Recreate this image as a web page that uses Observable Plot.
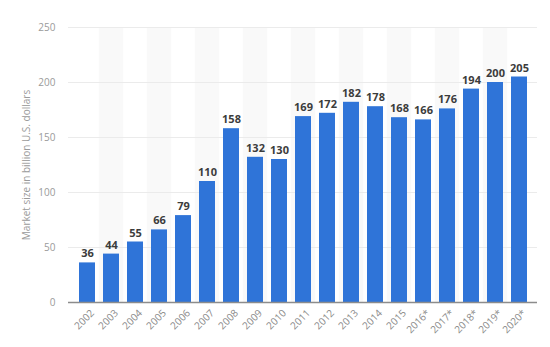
<!DOCTYPE html>
<html>
<head>
<meta charset="utf-8">
<script src="https://cdn.jsdelivr.net/npm/d3@7"></script>
<script src="https://cdn.jsdelivr.net/npm/@observablehq/plot@0.6"></script>
<style>
  html, body { margin: 0; padding: 0; background: #fff; }
  #chart { width: 550px; height: 347px; }
</style>
</head>
<body>
<div id="chart"></div>
<script>
const years = ["2002","2003","2004","2005","2006","2007","2008","2009","2010","2011","2012","2013","2014","2015","2016*","2017*","2018*","2019*","2020*"];
const values = [36,44,55,66,79,110,158,132,130,169,172,182,178,168,166,176,194,200,205];
const yTicks = [0,50,100,150,200,250];
const yLabel = "Market size in billion U.S. dollars";

const data = years.map((year, i) => ({year, value: values[i]}));
const stripes = years.filter((d, i) => i % 2 === 1);

const marginLeft = 68, marginRight = 13;
const padding = 0.35;
const step = (550 - marginLeft - marginRight) / (years.length + padding);

const chart = Plot.plot({
  width: 550,
  height: 347,
  marginLeft,
  marginRight,
  marginTop: 27,
  marginBottom: 45,
  style: {fontFamily: "'Open Sans', sans-serif", background: "#fff"},
  x: {domain: years, padding},
  y: {domain: [0, 250]},
  marks: [
    Plot.barY(stripes, {x: d => d, y1: 0, y2: 250, fill: "#f9f9f9", insetLeft: -step * padding / 2, insetRight: -step * padding / 2}),
    Plot.gridY(yTicks.filter(t => t > 0), {stroke: "#ebebeb", strokeOpacity: 1, strokeWidth: 1}),
    Plot.axisY({ticks: yTicks, tickSize: 0, tickPadding: 13, fontSize: 10, color: "#9a9a9a", label: yLabel, labelAnchor: "center", labelArrow: "none", labelOffset: 46}),
    Plot.axisX({tickSize: 0, tickPadding: 9, tickRotate: -45, fontSize: 10, color: "#8a8a8a", label: null, dx: 5}),
    Plot.barY(data, {x: "year", y: "value", fill: "#2f74d8"}),
    Plot.ruleY([0], {stroke: "#8c8c8c", strokeWidth: 1.5}),
    Plot.text(data, {x: "year", y: "value", text: d => String(d.value), dy: -9, fontSize: 11, fontWeight: "bold", fill: "#3c3c3c"})
  ]
});
document.getElementById("chart").appendChild(chart);
</script>
</body>
</html>
